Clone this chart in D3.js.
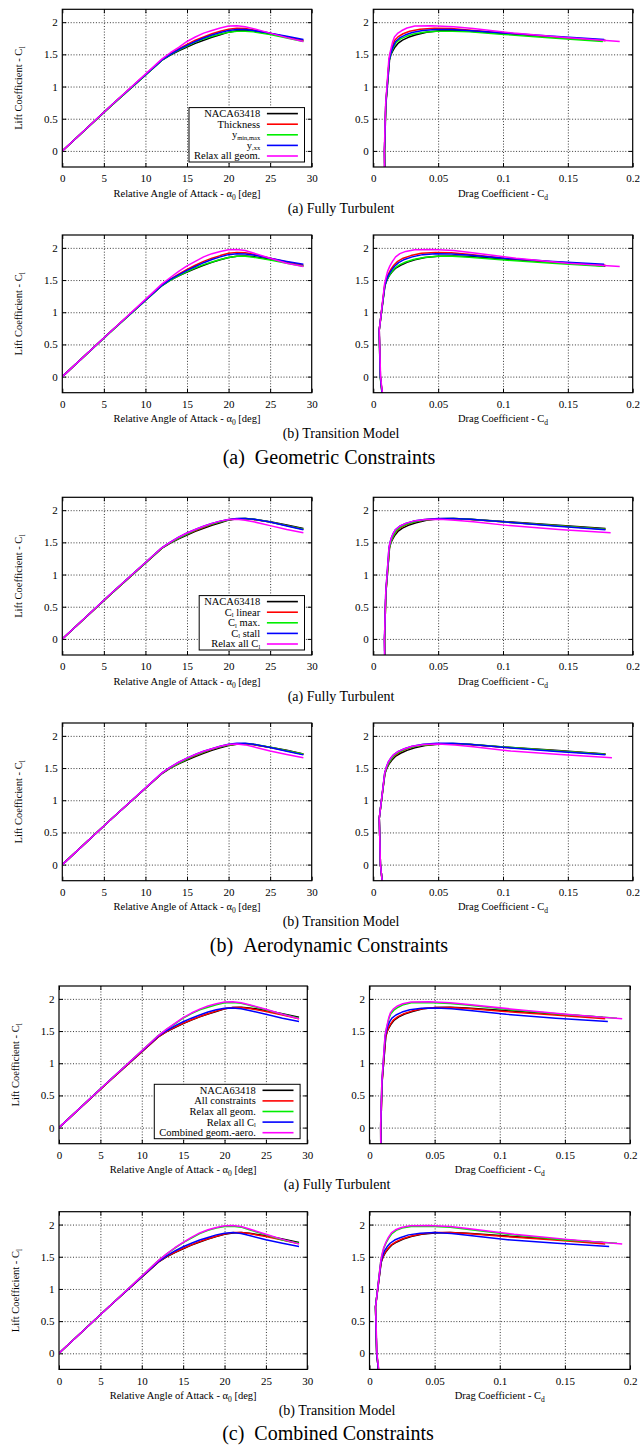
<!DOCTYPE html>
<html><head><meta charset="utf-8">
<script src="https://cdn.jsdelivr.net/npm/d3@7"></script>
<style>
body{margin:0;background:#fff}
svg{display:block}
text{font-family:"Liberation Serif","DejaVu Serif","Times New Roman",Times,serif;fill:#000}
</style>
</head><body>
<svg id="c" width="640" height="1448"></svg>
<script>
// ---------- DATA ----------
const alpha = [-3, 0, 6, 12, 13, 14, 15, 16, 17, 18, 19, 20, 21, 22, 23, 25, 27, 29];
const alphaTicks = [0, 5, 10, 15, 20, 25, 30];
const cdTicks = [0, 0.05, 0.1, 0.15, 0.2];
const clTicks = [0, 0.5, 1, 1.5, 2];

// Baseline airfoil
const ftNacaCl = [-0.36, 0, 0.715, 1.41, 1.49, 1.555, 1.615, 1.67, 1.72, 1.765, 1.805, 1.845, 1.865, 1.87, 1.86, 1.82, 1.77, 1.715];
const ftNacaCd = [0.0089, 0.0087, 0.0097, 0.0125, 0.0135, 0.0150, 0.0168, 0.0190, 0.0225, 0.0270, 0.0330, 0.0410, 0.0510, 0.0620, 0.0750, 0.1030, 0.1400, 0.1790];
const tmNacaCl = [-0.36, 0, 0.72, 1.415, 1.50, 1.565, 1.625, 1.68, 1.73, 1.775, 1.815, 1.85, 1.87, 1.875, 1.865, 1.825, 1.775, 1.72];
const tmNacaCd = [0.0074, 0.0055, 0.0046, 0.0090, 0.0105, 0.0122, 0.0144, 0.0170, 0.0210, 0.0260, 0.0320, 0.0400, 0.0500, 0.0620, 0.0750, 0.1030, 0.1400, 0.1790];

// Geometric constraints
const ftThickCl = [-0.36, 0, 0.72, 1.42, 1.51, 1.585, 1.655, 1.72, 1.77, 1.82, 1.86, 1.89, 1.905, 1.90, 1.88, 1.83, 1.77, 1.715];
const ftThickCd = [0.0088, 0.0086, 0.0096, 0.0122, 0.0131, 0.0142, 0.0153, 0.0165, 0.0190, 0.0230, 0.0280, 0.0360, 0.0470, 0.0600, 0.0730, 0.1010, 0.1390, 0.1790];
const ftYmmCl = [-0.36, 0, 0.715, 1.41, 1.495, 1.565, 1.63, 1.69, 1.74, 1.78, 1.815, 1.845, 1.86, 1.86, 1.85, 1.81, 1.755, 1.70];
const ftYmmCd = [0.0088, 0.0086, 0.0096, 0.0123, 0.0134, 0.0146, 0.0161, 0.0178, 0.0210, 0.0255, 0.0310, 0.0390, 0.0490, 0.0610, 0.0740, 0.1010, 0.1380, 0.1770];
const ftYxxCl = [-0.36, 0, 0.72, 1.415, 1.50, 1.575, 1.64, 1.70, 1.755, 1.80, 1.84, 1.87, 1.885, 1.885, 1.87, 1.83, 1.78, 1.73];
const ftYxxCd = [0.0088, 0.0086, 0.0096, 0.0123, 0.0133, 0.0144, 0.0157, 0.0172, 0.0203, 0.0245, 0.0300, 0.0380, 0.0480, 0.0600, 0.0730, 0.1010, 0.1390, 0.1780];
const ftRelaxGeomCl = [-0.36, 0, 0.72, 1.43, 1.525, 1.61, 1.70, 1.77, 1.83, 1.87, 1.91, 1.94, 1.945, 1.93, 1.90, 1.83, 1.76, 1.70];
const ftRelaxGeomCd = [0.0087, 0.0085, 0.0095, 0.0120, 0.0129, 0.0139, 0.0150, 0.0163, 0.0190, 0.0220, 0.0260, 0.0320, 0.0450, 0.0620, 0.0770, 0.1080, 0.1480, 0.1900];

const tmThickCl = [-0.36, 0, 0.72, 1.425, 1.515, 1.59, 1.665, 1.73, 1.79, 1.84, 1.88, 1.915, 1.93, 1.925, 1.90, 1.84, 1.78, 1.73];
const tmThickCd = [0.0073, 0.0054, 0.0045, 0.0088, 0.0101, 0.0115, 0.0135, 0.0158, 0.0188, 0.0230, 0.0290, 0.0370, 0.0480, 0.0600, 0.0730, 0.1010, 0.1390, 0.1790];
const tmYmmCl = [-0.36, 0, 0.715, 1.415, 1.50, 1.565, 1.63, 1.69, 1.74, 1.78, 1.82, 1.85, 1.87, 1.87, 1.855, 1.81, 1.76, 1.715];
const tmYmmCd = [0.0072, 0.0053, 0.0045, 0.0089, 0.0104, 0.0121, 0.0143, 0.0168, 0.0205, 0.0250, 0.0310, 0.0390, 0.0490, 0.0610, 0.0740, 0.1010, 0.1380, 0.1770];
const tmYxxCl = [-0.36, 0, 0.72, 1.42, 1.51, 1.58, 1.65, 1.71, 1.77, 1.82, 1.86, 1.895, 1.91, 1.905, 1.89, 1.84, 1.79, 1.745];
const tmYxxCd = [0.0073, 0.0054, 0.0045, 0.0089, 0.0103, 0.0118, 0.0139, 0.0162, 0.0195, 0.0240, 0.0300, 0.0380, 0.0480, 0.0600, 0.0730, 0.1010, 0.1390, 0.1780];
const tmRelaxGeomCl = [-0.36, 0, 0.72, 1.44, 1.54, 1.635, 1.72, 1.79, 1.86, 1.91, 1.945, 1.97, 1.975, 1.96, 1.92, 1.84, 1.76, 1.71];
const tmRelaxGeomCd = [0.0076, 0.0056, 0.0046, 0.0087, 0.0098, 0.0110, 0.0128, 0.0148, 0.0172, 0.0205, 0.0250, 0.0320, 0.0460, 0.0620, 0.0780, 0.1100, 0.1500, 0.1900];

// Aerodynamic constraints
const ftClLinCl = [-0.36, 0, 0.715, 1.415, 1.495, 1.565, 1.63, 1.685, 1.735, 1.78, 1.82, 1.85, 1.865, 1.865, 1.855, 1.815, 1.76, 1.705];
const ftClLinCd = [0.0089, 0.0087, 0.0097, 0.0124, 0.0134, 0.0147, 0.0164, 0.0183, 0.0215, 0.0262, 0.0322, 0.0405, 0.0505, 0.0615, 0.0745, 0.1025, 0.1395, 0.1790];
const ftClMaxCl = [-0.36, 0, 0.715, 1.415, 1.495, 1.565, 1.63, 1.69, 1.74, 1.785, 1.82, 1.85, 1.865, 1.87, 1.86, 1.815, 1.76, 1.705];
const ftClMaxCd = [0.0089, 0.0087, 0.0097, 0.0124, 0.0134, 0.0146, 0.0162, 0.0180, 0.0213, 0.0260, 0.0320, 0.0400, 0.0500, 0.0615, 0.0745, 0.1025, 0.1395, 0.1790];
const ftClStallCl = [-0.36, 0, 0.72, 1.42, 1.505, 1.58, 1.645, 1.70, 1.75, 1.795, 1.83, 1.855, 1.87, 1.87, 1.86, 1.815, 1.755, 1.695];
const ftClStallCd = [0.0088, 0.0086, 0.0096, 0.0121, 0.0130, 0.0141, 0.0155, 0.0172, 0.0203, 0.0250, 0.0310, 0.0395, 0.0500, 0.0615, 0.0745, 0.1025, 0.1395, 0.1790];
const ftRelaxClCl = [-0.36, 0, 0.72, 1.42, 1.505, 1.58, 1.645, 1.70, 1.75, 1.795, 1.83, 1.855, 1.86, 1.845, 1.82, 1.76, 1.70, 1.65];
const ftRelaxClCd = [0.0088, 0.0086, 0.0096, 0.0121, 0.0130, 0.0141, 0.0155, 0.0172, 0.0203, 0.0250, 0.0310, 0.0400, 0.0510, 0.0630, 0.0770, 0.1050, 0.1430, 0.1830];

const tmClLinCl = [-0.36, 0, 0.72, 1.42, 1.505, 1.575, 1.64, 1.695, 1.745, 1.79, 1.83, 1.86, 1.875, 1.875, 1.865, 1.82, 1.77, 1.715];
const tmClLinCd = [0.0074, 0.0055, 0.0046, 0.0089, 0.0103, 0.0119, 0.0140, 0.0165, 0.0202, 0.0250, 0.0310, 0.0395, 0.0495, 0.0615, 0.0745, 0.1025, 0.1395, 0.1790];
const tmClMaxCl = [-0.36, 0, 0.72, 1.42, 1.505, 1.575, 1.64, 1.70, 1.75, 1.795, 1.83, 1.86, 1.875, 1.88, 1.87, 1.825, 1.77, 1.715];
const tmClMaxCd = [0.0074, 0.0055, 0.0046, 0.0089, 0.0103, 0.0118, 0.0139, 0.0163, 0.0200, 0.0248, 0.0308, 0.0392, 0.0495, 0.0615, 0.0745, 0.1025, 0.1395, 0.1790];
const tmClStallCl = [-0.36, 0, 0.72, 1.425, 1.515, 1.59, 1.655, 1.71, 1.76, 1.80, 1.84, 1.87, 1.885, 1.885, 1.87, 1.82, 1.76, 1.705];
const tmClStallCd = [0.0074, 0.0055, 0.0046, 0.0088, 0.0101, 0.0115, 0.0135, 0.0158, 0.0193, 0.0240, 0.0300, 0.0385, 0.0490, 0.0610, 0.0740, 0.1020, 0.1390, 0.1790];
const tmRelaxClCl = [-0.36, 0, 0.72, 1.425, 1.515, 1.59, 1.655, 1.71, 1.76, 1.80, 1.84, 1.865, 1.875, 1.86, 1.83, 1.765, 1.71, 1.66];
const tmRelaxClCd = [0.0074, 0.0055, 0.0046, 0.0088, 0.0101, 0.0115, 0.0135, 0.0158, 0.0193, 0.0240, 0.0300, 0.0390, 0.0500, 0.0630, 0.0770, 0.1060, 0.1440, 0.1840];

// Combined constraints
const ftAllConsCl = [-0.36, 0, 0.715, 1.41, 1.49, 1.56, 1.62, 1.675, 1.725, 1.77, 1.81, 1.845, 1.865, 1.865, 1.85, 1.805, 1.75, 1.69];
const ftAllConsCd = [0.0089, 0.0087, 0.0097, 0.0124, 0.0135, 0.0148, 0.0165, 0.0185, 0.0218, 0.0265, 0.0325, 0.0405, 0.0505, 0.0620, 0.0755, 0.1040, 0.1420, 0.1810];
const ftCombCl = [-0.36, 0, 0.72, 1.43, 1.53, 1.62, 1.71, 1.78, 1.84, 1.89, 1.925, 1.95, 1.955, 1.94, 1.91, 1.84, 1.76, 1.69];
const ftCombCd = [0.0087, 0.0085, 0.0095, 0.0119, 0.0128, 0.0138, 0.0148, 0.0160, 0.0182, 0.0215, 0.0255, 0.0320, 0.0460, 0.0620, 0.0780, 0.1100, 0.1510, 0.1940];
const tmAllConsCl = [-0.36, 0, 0.72, 1.42, 1.505, 1.57, 1.63, 1.685, 1.735, 1.78, 1.82, 1.855, 1.875, 1.875, 1.86, 1.815, 1.76, 1.70];
const tmAllConsCd = [0.0074, 0.0055, 0.0046, 0.0089, 0.0104, 0.0120, 0.0142, 0.0167, 0.0206, 0.0255, 0.0315, 0.0395, 0.0495, 0.0615, 0.0750, 0.1040, 0.1420, 0.1810];
const tmCombCl = [-0.36, 0, 0.72, 1.44, 1.545, 1.64, 1.725, 1.80, 1.87, 1.92, 1.955, 1.98, 1.985, 1.97, 1.93, 1.85, 1.77, 1.70];
const tmCombCd = [0.0077, 0.0057, 0.0047, 0.0087, 0.0097, 0.0109, 0.0126, 0.0145, 0.0168, 0.0200, 0.0245, 0.0310, 0.0460, 0.0620, 0.0785, 0.1110, 0.1520, 0.1940];

const legendGeom = ["NACA63418", "Thickness", "y_{min,max}", "y_{,xx}", "Relax all geom."];
const legendAero = ["NACA63418", "C_{l} linear", "C_{l} max.", "C_{l} stall", "Relax all C_{l}"];
const legendComb = ["NACA63418", "All constraints", "Relax all geom.", "Relax all C_{l}", "Combined geom.-aero."];
const seriesColors = ["#000000", "#ff0000", "#00ee00", "#0000ff", "#ff00ff"];

const subTitles = ["(a) Fully Turbulent", "(b) Transition Model"];
const blockTitles = ["(a)\u2002Geometric Constraints", "(b)\u2002Aerodynamic Constraints", "(c)\u2002Combined Constraints"];
const xLabelAlpha = "Relative Angle of Attack - \u03b1_{0} [deg]";
const xLabelCd = "Drag Coefficient - C_{d}";
const yLabelCl = "Lift Coefficient - C_{l}";

const cases = [
  [ {cl:[ftNacaCl, ftThickCl, ftYmmCl, ftYxxCl, ftRelaxGeomCl], cd:[ftNacaCd, ftThickCd, ftYmmCd, ftYxxCd, ftRelaxGeomCd]},
    {cl:[tmNacaCl, tmThickCl, tmYmmCl, tmYxxCl, tmRelaxGeomCl], cd:[tmNacaCd, tmThickCd, tmYmmCd, tmYxxCd, tmRelaxGeomCd]} ],
  [ {cl:[ftNacaCl, ftClLinCl, ftClMaxCl, ftClStallCl, ftRelaxClCl], cd:[ftNacaCd, ftClLinCd, ftClMaxCd, ftClStallCd, ftRelaxClCd]},
    {cl:[tmNacaCl, tmClLinCl, tmClMaxCl, tmClStallCl, tmRelaxClCl], cd:[tmNacaCd, tmClLinCd, tmClMaxCd, tmClStallCd, tmRelaxClCd]} ],
  [ {cl:[ftNacaCl, ftAllConsCl, ftRelaxGeomCl, ftRelaxClCl, ftCombCl], cd:[ftNacaCd, ftAllConsCd, ftRelaxGeomCd, ftRelaxClCd, ftCombCd]},
    {cl:[tmNacaCl, tmAllConsCl, tmRelaxGeomCl, tmRelaxClCl, tmCombCl], cd:[tmNacaCd, tmAllConsCd, tmRelaxGeomCd, tmRelaxClCd, tmCombCd]} ]
];
const legends = [legendGeom, legendAero, legendComb];

// ---------- LAYOUT ----------
const panelH = 157.7, rowStep = 225.7;
const blocks = [
  {top: 9.3,   lx: [62.3, 311.7], rx: [373.3, 632.7], ylabX: 22, subCx: 341, titleCx: 329},
  {top: 497.3, lx: [62.3, 311.7], rx: [373.3, 632.7], ylabX: 22, subCx: 341, titleCx: 329},
  {top: 986,   lx: [59, 307.3],   rx: [369.5, 630],   ylabX: 18.5, subCx: 337, titleCx: 328}
];
const serif = '"Liberation Serif","DejaVu Serif","Times New Roman",serif';

const svg = d3.select("#c");
let clipN = 0;

function rich(t, str, fs, subScale, subShift) {
  const parts = str.split(/(_\{[^}]*\})/).filter(s => s.length);
  let shift = 0;
  parts.forEach(p => {
    if (p.startsWith("_{")) {
      const s = fs * subShift;
      t.append("tspan").attr("font-size", fs * subScale).attr("dy", s).text(p.slice(2, -1));
      shift = s;
    } else {
      const ts = t.append("tspan").text(p);
      if (shift) { ts.attr("dy", -shift); shift = 0; }
    }
  });
}

function drawPanel(xr, y0, xDomain, xTicks, xsArr, ysArr, xLabel, withYLabel, ylabX) {
  const x = d3.scaleLinear().domain(xDomain).range(xr);
  const y = d3.scaleLinear().domain([-0.25, 2.2]).range([y0 + panelH, y0]);
  const w = xr[1] - xr[0];
  const g = svg.append("g");
  const bottom = y0 + panelH;

  // grid
  const gx = g.append("g").attr("transform", `translate(0,${bottom})`)
    .call(d3.axisBottom(x).tickValues(xTicks.slice(1, -1)).tickSize(-panelH).tickFormat(""));
  const gy = g.append("g").attr("transform", `translate(${xr[0]},0)`)
    .call(d3.axisLeft(y).tickValues(clTicks).tickSize(-w).tickFormat(""));
  [gx, gy].forEach(a => {
    a.select(".domain").remove();
    a.selectAll("line").attr("stroke", "#222").attr("stroke-width", 0.9).attr("stroke-dasharray", "1,1.8");
  });

  // inward solid ticks on all four sides
  const tk = 4;
  const tb = g.append("g").attr("transform", `translate(0,${bottom})`).call(d3.axisBottom(x).tickValues(xTicks).tickSize(-tk).tickFormat(""));
  const tt = g.append("g").attr("transform", `translate(0,${y0})`).call(d3.axisTop(x).tickValues(xTicks).tickSize(-tk).tickFormat(""));
  const tl = g.append("g").attr("transform", `translate(${xr[0]},0)`).call(d3.axisLeft(y).tickValues(clTicks).tickSize(-tk).tickFormat(""));
  const tr = g.append("g").attr("transform", `translate(${xr[1]},0)`).call(d3.axisRight(y).tickValues(clTicks).tickSize(-tk).tickFormat(""));
  [tb, tt, tl, tr].forEach(a => { a.select(".domain").remove(); a.selectAll("line").attr("stroke", "#000").attr("stroke-width", 1); });

  // tick labels
  const lb = g.append("g").attr("transform", `translate(0,${bottom})`)
    .call(d3.axisBottom(x).tickValues(xTicks).tickSize(0).tickPadding(7.5).tickFormat(d => String(d)));
  const ll = g.append("g").attr("transform", `translate(${xr[0]},0)`)
    .call(d3.axisLeft(y).tickValues(clTicks).tickSize(0).tickPadding(4.5).tickFormat(d => String(d)));
  [lb, ll].forEach(a => {
    a.select(".domain").remove();
    a.attr("font-family", null).attr("font-size", null);
    a.selectAll("text").attr("font-size", 11).style("font-family", serif);
  });

  // series
  const id = "clip" + (clipN++);
  g.append("clipPath").attr("id", id).append("rect")
    .attr("x", xr[0]).attr("y", y0).attr("width", w).attr("height", panelH);
  const lg = g.append("g").attr("clip-path", `url(#${id})`);
  xsArr.forEach((xs, k) => {
    const ys = ysArr[k];
    const pts = xs.map((v, i) => [v, ys[i]]);
    lg.append("path")
      .attr("d", d3.line().x(d => x(d[0])).y(d => y(d[1]))(pts))
      .attr("fill", "none").attr("stroke", seriesColors[k])
      .attr("stroke-width", 1.5).attr("stroke-linejoin", "round");
  });

  // frame
  g.append("rect").attr("x", xr[0]).attr("y", y0).attr("width", w).attr("height", panelH)
    .attr("fill", "none").attr("stroke", "#000").attr("stroke-width", 1.2);

  // axis labels
  const xl = g.append("text").attr("x", (xr[0] + xr[1]) / 2).attr("y", bottom + 29.5)
    .attr("text-anchor", "middle").attr("font-size", 10.5);
  rich(xl, xLabel, 10.5, 0.72, 0.3);
  if (withYLabel) {
    const yl = g.append("text")
      .attr("transform", `translate(${ylabX},${y0 + panelH / 2}) rotate(-90)`)
      .attr("text-anchor", "middle").attr("font-size", 10.5);
    rich(yl, yLabelCl, 10.5, 0.72, 0.3);
  }
  return {x, y, g};
}

function drawLegend(g, frameRight, frameBottom, labels) {
  const right = frameRight - 7.2;
  const bot = frameBottom - 5;
  const textRight = right - 44.3;
  const step = 10.6;
  const centers = labels.map((_, i) => bot - 6 - (labels.length - 1 - i) * step);
  const top = centers[0] - 6;
  const box = g.append("rect");
  let maxW = 0;
  labels.forEach((lab, i) => {
    const t = g.append("text").attr("x", textRight).attr("y", centers[i] + 3.4)
      .attr("text-anchor", "end").attr("font-size", 10.5);
    rich(t, lab, 10.5, 0.62, 0.16);
    maxW = Math.max(maxW, t.node().getComputedTextLength());
    g.append("line").attr("x1", right - 37.6).attr("x2", right - 6.6)
      .attr("y1", centers[i]).attr("y2", centers[i])
      .attr("stroke", seriesColors[i]).attr("stroke-width", 1.6);
  });
  const left = textRight - maxW - 5;
  box.attr("x", left).attr("y", top).attr("width", right - left).attr("height", bot - top)
    .attr("fill", "#fff").attr("stroke", "#000").attr("stroke-width", 1);
}

blocks.forEach((b, bi) => {
  [0, 1].forEach(row => {
    const y0 = b.top + row * rowStep;
    const c = cases[bi][row];
    const alphaArr = c.cl.map(() => alpha);
    const L = drawPanel(b.lx, y0, [0, 30], alphaTicks, alphaArr, c.cl, xLabelAlpha, true, b.ylabX);
    drawPanel(b.rx, y0, [0, 0.2], cdTicks, c.cd, c.cl, xLabelCd, false, 0);
    if (row === 0) drawLegend(L.g, b.lx[1], y0 + panelH, legends[bi]);
    svg.append("text").attr("x", b.subCx).attr("y", y0 + panelH + 45.5)
      .attr("text-anchor", "middle").attr("font-size", 14).text(subTitles[row]);
  });
  svg.append("text").attr("x", b.titleCx).attr("y", b.top + rowStep + panelH + 71)
    .attr("text-anchor", "middle").attr("font-size", 20).text(blockTitles[bi]);
});
</script>
</body></html>
